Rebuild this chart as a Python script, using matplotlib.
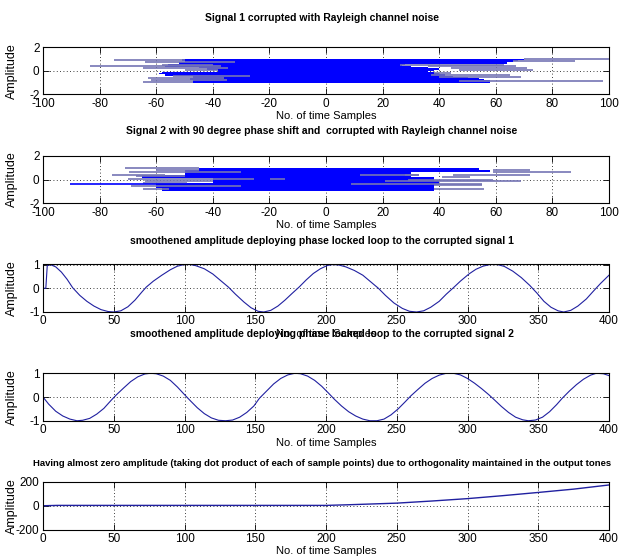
import numpy as np
import matplotlib
matplotlib.use('Agg')
import matplotlib.pyplot as plt

plt.rcParams['font.family'] = ['Liberation Sans', 'DejaVu Sans']
plt.rcParams['axes.unicode_minus'] = False

# ---------------- data ----------------
titles = ['Signal 1 corrupted with Rayleigh channel noise',
          'Signal 2 with 90 degree phase shift and  corrupted with Rayleigh channel noise',
          'smoothened amplitude deploying phase locked loop to the corrupted signal 1',
          'smoothened amplitude deploying phase locked loop to the corrupted signal 2',
          'Having almost zero amplitude (taking dot product of each of sample points) due to orthogonality maintained in the output tones']
xlab = 'No. of time Samples'
ylab = 'Amplitude'

# signal 1 : dense band of rows (y, left end, right end)
s1_core_y = [0.95, 0.85, 0.75, 0.65, 0.55, 0.45, 0.35, 0.25, 0.15, 0.05,
             -0.05, -0.15, -0.25, -0.35, -0.45, -0.55, -0.65, -0.75, -0.85, -0.95]
s1_core_l = [-51, -51, -50, -52, -56, -56, -57, -45, -42, -38,
             -38, -58, -59, -57, -47, -47, -48, -48, -47, -47]
s1_core_r = [70, 68, 66, 64, 28, 27, 30, 36, 40, 38,
             36, 38, 40, 42, 45, 50, 54, 56, 58, 58]
# signal 1 : loose horizontal lines
s1_line_y = [0.92, 0.75, 0.5, 0.36, 0.19, 0.1, -0.47, -0.61, -0.78, -0.92,
             0.97, 0.83, 0.5, 0.36, 0.22, 0.1, -0.2, -0.35, -0.52, -0.88]
s1_line_a = [-75, -64, -58, -83.5, -64.5, -50, -54, -63, -62, -64.5,
             70, 66, 26, 36, 44, 47, 38, 37, 40, 47]
s1_line_b = [-50, -32, -40, -37, -34.5, -38, -27, -36, -35, -47,
             100, 88, 63, 67, 71, 73, 44, 65, 69, 98]

# signal 2
s2_core_y = s1_core_y
s2_core_l = [-45, -45, -50, -50, -50, -50, -65, -65, -65, -40,
             -40, -40, -40, -60, -60, -60, -60, -58, -58, -58]
s2_core_r = [54, 54, 58, 58, 30, 30, 30, 30, 38, 38,
             38, 40, 40, 40, 40, 38, 38, 38, 38, 38]
s2_line_y = [0.95, 0.78, 0.62, 0.42, 0.28, 0.05, -0.14, -0.3, -0.58, -0.78, 0.06,
             0.8, 0.65, 0.42, 0.35, 0.2, 0.42, 0.0, -0.14, -0.36, -0.5, -0.8]
s2_line_a = [-71, -60, -69.5, -75.6, -67, -70, -64, -64.5, -69, -64.5, -19.8,
             59, 59, 12, 28, 41, 45, 29, 21, 9, 38, 38]
s2_line_b = [-45, -45, -30, -56.8, -50, -25.6, -40, -49, -30, -55.6, -14.5,
             72, 86.5, 33, 33, 51, 72, 59, 69, 55, 55, 56]
s2_dark_y = [-0.36]
s2_dark_a = [-90.6]
s2_dark_b = [-40]

# PLL output for signal 1
p1_x = [0, 2, 3, 5, 9, 13, 17, 21, 26, 31, 36, 41, 46, 50, 55, 60, 65, 70, 73, 78,
        84, 90, 95, 100, 104, 108, 114, 120, 126, 131, 136, 142, 147, 152, 156, 161,
        166, 171, 176, 181, 186, 191, 196, 201, 205, 209, 214, 220, 226, 232, 237,
        242, 248, 254, 259, 264, 269, 274, 280, 285, 290, 295, 301, 306, 311, 316,
        321, 326, 332, 338, 344, 349, 354, 359, 364, 368, 373, 378, 384, 389, 394, 400]
p1_y = [0, 0, 0.95, 1.0, 0.9, 0.68, 0.38, 0.02, -0.3, -0.55, -0.75, -0.9, -0.98, -1.0,
        -0.95, -0.78, -0.5, -0.15, 0.05, 0.3, 0.55, 0.78, 0.93, 1.0, 1.0, 0.95, 0.82,
        0.6, 0.3, 0.05, -0.25, -0.58, -0.82, -0.97, -1.0, -0.93, -0.75, -0.5, -0.22,
        0.05, 0.35, 0.62, 0.82, 0.96, 1.0, 0.98, 0.9, 0.75, 0.55, 0.25, 0.0, -0.3,
        -0.62, -0.85, -0.97, -1.0, -0.95, -0.8, -0.55, -0.25, 0.02, 0.3, 0.6, 0.8,
        0.93, 1.0, 1.0, 0.92, 0.72, 0.45, 0.12, -0.2, -0.55, -0.8, -0.95, -1.0, -0.93,
        -0.75, -0.45, -0.12, 0.2, 0.55]

# PLL output for signal 2
p2_x = [0, 4, 9, 14, 19, 24, 28, 33, 38, 43, 48, 52, 57, 62, 67, 72, 76, 80, 85, 90,
        95, 100, 104, 109, 114, 119, 124, 129, 134, 139, 144, 149, 153, 158, 163, 168,
        173, 178, 182, 187, 192, 197, 202, 206, 211, 216, 221, 226, 231, 236, 241,
        246, 251, 256, 260, 265, 270, 275, 280, 285, 290, 295, 300, 305, 310, 315,
        319, 324, 329, 334, 339, 343, 348, 353, 358, 363, 367, 372, 377, 382, 387,
        391, 396, 400]
p2_y = [0, -0.3, -0.6, -0.8, -0.93, -1.0, -0.98, -0.9, -0.72, -0.48, -0.15, 0.1, 0.38,
        0.65, 0.85, 0.97, 1.0, 0.98, 0.88, 0.7, 0.42, 0.1, -0.15, -0.45, -0.7, -0.88,
        -0.98, -1.0, -0.97, -0.85, -0.65, -0.38, -0.05, 0.25, 0.55, 0.78, 0.93, 1.0,
        0.98, 0.88, 0.7, 0.45, 0.15, -0.1, -0.38, -0.62, -0.8, -0.93, -1.0, -1.0,
        -0.93, -0.75, -0.5, -0.2, 0.05, 0.32, 0.58, 0.78, 0.92, 1.0, 1.0, 0.93, 0.78,
        0.58, 0.35, 0.1, -0.12, -0.4, -0.65, -0.85, -0.96, -1.0, -0.97, -0.85, -0.62,
        -0.32, -0.05, 0.25, 0.52, 0.75, 0.92, 1.0, 0.98, 0.9]

# dot product of the two outputs
dp_x = [0, 10, 50, 100, 150, 200, 215, 225, 250, 275, 300, 325, 350, 375, 400]
dp_y = [0, 3, 3, 3, 3, 3, 8, 12, 22, 40, 60, 85, 112, 140, 175]

# ---------------- figure ----------------
W, H = 619, 559
fig = plt.figure(figsize=(W / 100, H / 100), dpi=100)

blue = '#0000ff'
grey = '#7474b4'
curve = '#2020a0'

x0, x1 = 43, 609
left = x0 / W
width = (x1 - x0) / W
ax_h = 47.5
tops = [47, 155.75, 264.5, 373.25, 482]
title_y = [18, 131, 241, 334, 463]

axs = []
for i in range(5):
    ax = fig.add_axes([left, 1 - (tops[i] + ax_h) / H, width, ax_h / H])
    axs.append(ax)

def style(ax, xlim, ylim, xt, yt):
    ax.set_xlim(xlim)
    ax.set_ylim(ylim)
    ax.set_xticks(xt)
    ax.set_yticks(yt)
    ax.tick_params(direction='in', top=True, right=True, length=4, width=0.6,
                   labelsize=8.5, pad=2.5)
    ax.grid(True, color='k', linestyle=(0, (1, 3)), linewidth=0.6)
    ax.set_axisbelow(True)
    for s in ax.spines.values():
        s.set_linewidth(0.8)
    ax.set_xlabel(xlab, fontsize=8, labelpad=1)
    ax.set_ylabel(ylab, fontsize=9)
    ax.yaxis.set_label_coords(-25 / (x1 - x0), 0.5)

# panels 1, 2
for ax, cy, cl, cr, ly, la, lb in [(axs[0], s1_core_y, s1_core_l, s1_core_r, s1_line_y, s1_line_a, s1_line_b),
                                   (axs[1], s2_core_y, s2_core_l, s2_core_r, s2_line_y, s2_line_a, s2_line_b)]:
    cl = np.array(cl)
    cr = np.array(cr)
    ax.barh(cy, cr - cl, left=cl, height=0.1, color=blue, linewidth=0, zorder=2)
    ax.hlines(ly, la, lb, colors=grey, linewidth=1.2, zorder=3)
    style(ax, (-100, 100), (-2, 2), np.arange(-100, 101, 20), [-2, 0, 2])
axs[1].hlines(s2_dark_y, s2_dark_a, s2_dark_b, colors=blue, linewidth=1.2, zorder=3)

# panels 3, 4
axs[2].plot(p1_x, p1_y, color=curve, linewidth=0.8)
axs[3].plot(p2_x, p2_y, color=curve, linewidth=0.8)
for ax in axs[2:4]:
    style(ax, (0, 400), (-1, 1), np.arange(0, 401, 50), [-1, 0, 1])

# panel 5
axs[4].plot(dp_x, dp_y, color=curve, linewidth=1.0)
style(axs[4], (0, 400), (-200, 200), np.arange(0, 401, 50), [-200, 0, 200])

title_txt = []
for i, ax in enumerate(axs):
    t = fig.text(322 / W, 1 - title_y[i] / H, titles[i],
                 ha='center', va='center', fontsize=7.5, fontweight='bold')
    title_txt.append(t)

# the long last title has to fit inside the picture
fig.canvas.draw()
r = fig.canvas.get_renderer()
t = title_txt[4]
bw = t.get_window_extent(r).width
t.set_fontsize(t.get_fontsize() * min(1.0, 575 / bw))

fig.savefig('out.png', dpi=100)
